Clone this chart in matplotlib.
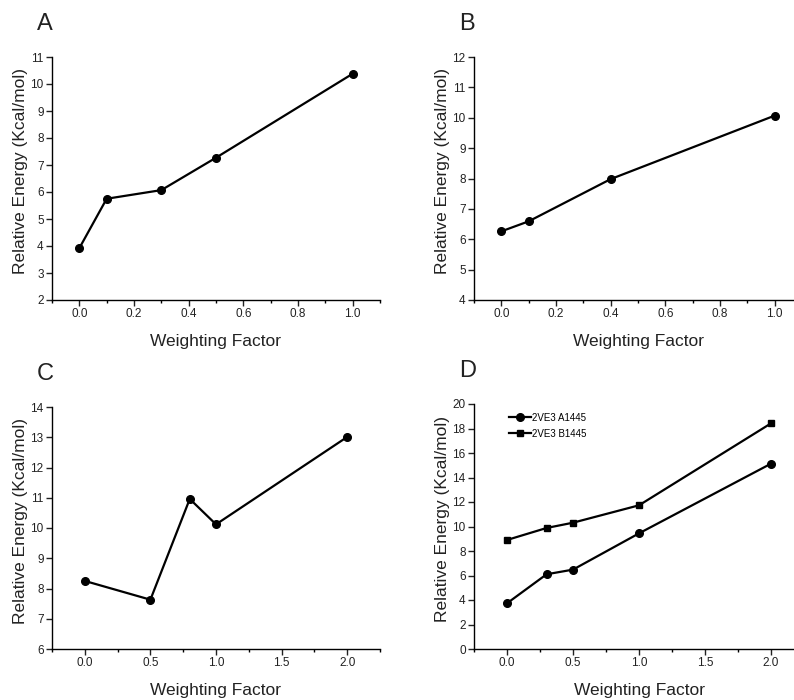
import matplotlib
matplotlib.use("Agg")
import matplotlib.pyplot as plt
from matplotlib.ticker import MultipleLocator

plt.rcParams["font.family"] = ["Liberation Sans", "DejaVu Sans"]

# panel A
a_x = [0.0, 0.1, 0.3, 0.5, 1.0]
a_y = [3.92, 5.75, 6.07, 7.27, 10.38]

# panel B
b_x = [0.0, 0.1, 0.4, 1.0]
b_y = [6.26, 6.59, 7.98, 10.07]

# panel C
c_x = [0.0, 0.5, 0.8, 1.0, 2.0]
c_y = [8.25, 7.63, 10.96, 10.12, 13.01]

# panel D
d_x = [0.0, 0.3, 0.5, 1.0, 2.0]
d_a1445 = [3.73, 6.10, 6.48, 9.44, 15.13]
d_b1445 = [8.90, 9.88, 10.31, 11.73, 18.42]
d_labels = ["2VE3 A1445", "2VE3 B1445"]

W, H = 794, 700
fig = plt.figure(figsize=(W / 100.0, H / 100.0), dpi=100)


def px_axes(left, top, right, bottom):
    # axes box in pixel coordinates of the image
    return fig.add_axes([left / W, 1 - bottom / H, (right - left) / W, (bottom - top) / H])


def style(ax, xlim, ylim, xmaj, ymaj, letter):
    ax.set_xlim(xlim)
    ax.set_ylim(ylim)
    ax.xaxis.set_major_locator(MultipleLocator(xmaj))
    ax.xaxis.set_minor_locator(MultipleLocator(xmaj / 2))
    ax.yaxis.set_major_locator(MultipleLocator(ymaj))
    for s in ["top", "right"]:
        ax.spines[s].set_visible(False)
    for s in ["left", "bottom"]:
        ax.spines[s].set_linewidth(1.0)
    ax.tick_params(which="major", direction="out", length=4, width=1.0, labelsize=8.5, pad=2, colors="#222222")
    ax.tick_params(which="minor", direction="out", length=2.5, width=1.0)
    ax.xaxis.set_major_formatter(matplotlib.ticker.FormatStrFormatter("%.1f"))
    ax.set_xlabel("Weighting Factor", fontsize=12.5, labelpad=10, color="#222222")
    ax.set_ylabel("Relative Energy (Kcal/mol)", fontsize=12.5, color="#222222")
    ax.yaxis.set_label_coords(-0.072, 0.53)
    ax.text(-0.045, 1.09, letter, transform=ax.transAxes, fontsize=17, ha="left", va="bottom", color="#222222")


kw = dict(color="black", lw=1.6, marker="o", markersize=5.5)

ax = px_axes(52, 57, 380, 300)
ax.plot(a_x, a_y, **kw)
style(ax, (-0.1, 1.1), (2, 11), 0.2, 1, "A")

ax = px_axes(474, 57, 802, 300)
ax.plot(b_x, b_y, **kw)
style(ax, (-0.1, 1.1), (4, 12), 0.2, 1, "B")

ax = px_axes(52, 407, 380, 649)
ax.plot(c_x, c_y, **kw)
style(ax, (-0.25, 2.25), (6, 14), 0.5, 1, "C")

ax = px_axes(474, 404, 804, 649)
ax.plot(d_x, d_a1445, label=d_labels[0], **kw)
ax.plot(d_x, d_b1445, label=d_labels[1], color="black", lw=1.6, marker="s", markersize=5)
style(ax, (-0.25, 2.25), (0, 20), 0.5, 2, "D")
ax.legend(loc="upper left", bbox_to_anchor=(0.08, 1.0), frameon=False, fontsize=7,
          handlelength=2.2, handletextpad=0.1, labelspacing=0.6)

fig.savefig("out.png", dpi=100)
